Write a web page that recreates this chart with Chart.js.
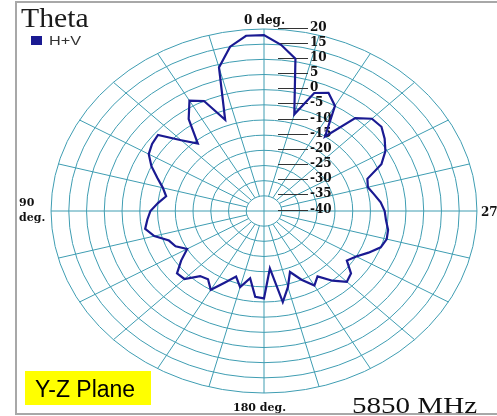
<!DOCTYPE html>
<html lang="en">
<head>
    <meta charset="UTF-8">
    <title>Theta - Y-Z Plane 5850 MHz</title>
    <style>
        body {
            margin: 0;
            padding: 0;
            background-color: #ffffff;
        }
        canvas {
            display: block;
        }
    </style>
    <script src="https://cdn.jsdelivr.net/npm/chart.js"></script>
</head>
<body>

<canvas id="myChart" width="497" height="416"></canvas>

<script>
    // Pattern data: theta in degrees (counter-clockwise from top), gain in dB
    const angles = [
        0, 5, 10, 15, 20, 25, 30, 35, 40, 45, 50, 55,
        60, 65, 70, 75, 80, 85, 90, 95, 100, 105, 110, 115,
        120, 125, 130, 135, 140, 145, 150, 155, 160, 165, 170, 175,
        180, 185, 190, 195, 200, 205, 210, 215, 220, 225, 230, 235,
        240, 245, 250, 255, 260, 265, 270, 275, 280, 285, 290, 295,
        300, 305, 310, 315, 320, 325, 330, 335, 340, 345, 350, 355
    ];
    const gainHV = [
        18, 18, 15, 9, -8, 0, 2, -3, -11, -7, -1, -1.5,
        -2.5, -5, -8, -10.5, -12, -10, -8, -7, -6, -8, -11.5, -12.5,
        -15, -11.5, -8, -8.3, -12, -12.5, -10, -14, -17, -14, -17.5, -11.6,
        -11.2, -21, -9.5, -14, -18.6, -15, -11.6, -13.7, -10, -7, -8, -11.5,
        -10, -7.5, -5, -4.2, -4.5, -5.5, -6, -7, -8.5, -9.7, -9, -3.5,
        -0.5, 1.5, 3.2, 3, 0, -10, 0, 3, 1.4, -7, 11, 15
    ];
    const tickValues = [20, 15, 10, 5, 0, -5, -10, -15, -20, -25, -30, -35, -40];
    const spokeStep = 15;

    const STRETCH = 1.17;      // the plot is drawn wider than tall
    const GRID = '#3f9db2';
    const TRACE = '#1a1a92';

    // radial scale that mirrors (theta grows counter-clockwise) and stretches x
    class StretchedRadial extends Chart.RadialLinearScale {
        getPointPosition(index, distance, extra) {
            const p = super.getPointPosition(index, distance, extra);
            return { x: this.xCenter - (p.x - this.xCenter) * STRETCH, y: p.y, angle: p.angle };
        }
    }
    StretchedRadial.id = 'stretchedRadial';
    Chart.register(StretchedRadial);

    function stretchedText(ctx, text, x, y, font, sx, color) {
        ctx.save();
        ctx.translate(x, y);
        ctx.scale(sx, 1);
        ctx.font = font;
        ctx.fillStyle = color;
        ctx.textBaseline = 'alphabetic';
        ctx.fillText(text, 0, 0);
        ctx.restore();
    }

    const decor = {
        id: 'decor',
        beforeDatasetsDraw(chart) {
            const s = chart.scales.r;
            const ctx = chart.ctx;
            ctx.save();
            ctx.strokeStyle = GRID;
            ctx.lineWidth = 1;

            // rings
            tickValues.forEach(v => {
                const d = s.getDistanceFromCenterForValue(v);
                if (d <= 0) return;
                ctx.beginPath();
                ctx.ellipse(s.xCenter, s.yCenter, d * STRETCH, d, 0, 0, Math.PI * 2);
                ctx.stroke();
            });

            // spokes
            const inner = s.getDistanceFromCenterForValue(-35);
            const outer = s.getDistanceFromCenterForValue(20);
            angles.forEach((a, i) => {
                if (a % spokeStep !== 0) return;
                const from = (a % 90 === 0) ? 0 : inner;
                const p0 = s.getPointPosition(i, from);
                const p1 = s.getPointPosition(i, outer);
                ctx.beginPath();
                ctx.moveTo(p0.x, p0.y);
                ctx.lineTo(p1.x, p1.y);
                ctx.stroke();
            });

            // tick labels with leader lines
            ctx.strokeStyle = '#333333';
            ctx.font = 'bold 12px "DejaVu Serif"';
            ctx.fillStyle = '#111111';
            ctx.textBaseline = 'middle';
            ctx.textAlign = 'left';
            tickValues.forEach(v => {
                const y = s.yCenter - s.getDistanceFromCenterForValue(v) - 1.5;
                ctx.beginPath();
                ctx.moveTo(278, Math.round(y) + 0.5);
                ctx.lineTo(308, Math.round(y) + 0.5);
                ctx.stroke();
                ctx.fillText(String(v), 310, y);
            });
            ctx.restore();
        },
        afterDraw(chart) {
            const ctx = chart.ctx;
            const ds = chart.data.datasets[0];

            // title and legend
            stretchedText(ctx, 'Theta', 21, 27, '27px "Liberation Serif"', 1.1, '#1a1a1a');
            ctx.fillStyle = ds.borderColor;
            ctx.fillRect(31, 36, 11, 9);
            stretchedText(ctx, ds.label, 49, 45, '13px "Liberation Sans"', 1.25, '#333333');

            // angle labels
            const bold = 'bold 12px "DejaVu Serif"';
            const small = 'bold 11px "DejaVu Serif"';
            stretchedText(ctx, '0 deg.', 244, 24, bold, 1, '#111111');
            stretchedText(ctx, '90', 19, 206, small, 1, '#111111');
            stretchedText(ctx, 'deg.', 19, 221, small, 1, '#111111');
            stretchedText(ctx, '270 deg.', 481, 216, bold, 1, '#111111');
            stretchedText(ctx, '180 deg.', 233, 411, small, 1, '#111111');

            // plane tag
            ctx.fillStyle = '#ffff00';
            ctx.fillRect(25, 371, 126, 34);
            stretchedText(ctx, 'Y-Z Plane', 35, 397, '23px "Liberation Sans"', 1, '#000000');

            // frequency
            stretchedText(ctx, '5850 MHz', 352, 413, '24px "Liberation Serif"', 1.21, '#111111');

            // frame
            ctx.fillStyle = '#a8a8a8';
            ctx.fillRect(15, 1, 2, 414);
            ctx.fillRect(15, 1, 482, 2);
            ctx.fillRect(15, 413, 482, 2);
        }
    };

    const ctx = document.getElementById('myChart').getContext('2d');
    const chart = new Chart(ctx, {
        type: 'radar',
        data: {
            labels: angles,
            datasets: [{
                label: 'H+V',
                data: gainHV,
                borderColor: TRACE,
                backgroundColor: 'rgba(0,0,0,0)',
                borderWidth: 2.2,
                pointRadius: 0,
                fill: false,
                tension: 0
            }]
        },
        options: {
            responsive: false,
            animation: false,
            layout: {
                padding: { top: 29, bottom: 23, left: 50, right: 18 }
            },
            plugins: {
                legend: { display: false },
                title: { display: false },
                tooltip: { enabled: false }
            },
            scales: {
                r: {
                    type: 'stretchedRadial',
                    min: -40,
                    max: 20,
                    ticks: { display: false, stepSize: 5 },
                    grid: { display: false },
                    angleLines: { display: false },
                    pointLabels: { display: false }
                }
            }
        },
        plugins: [decor]
    });
</script>

</body>
</html>
